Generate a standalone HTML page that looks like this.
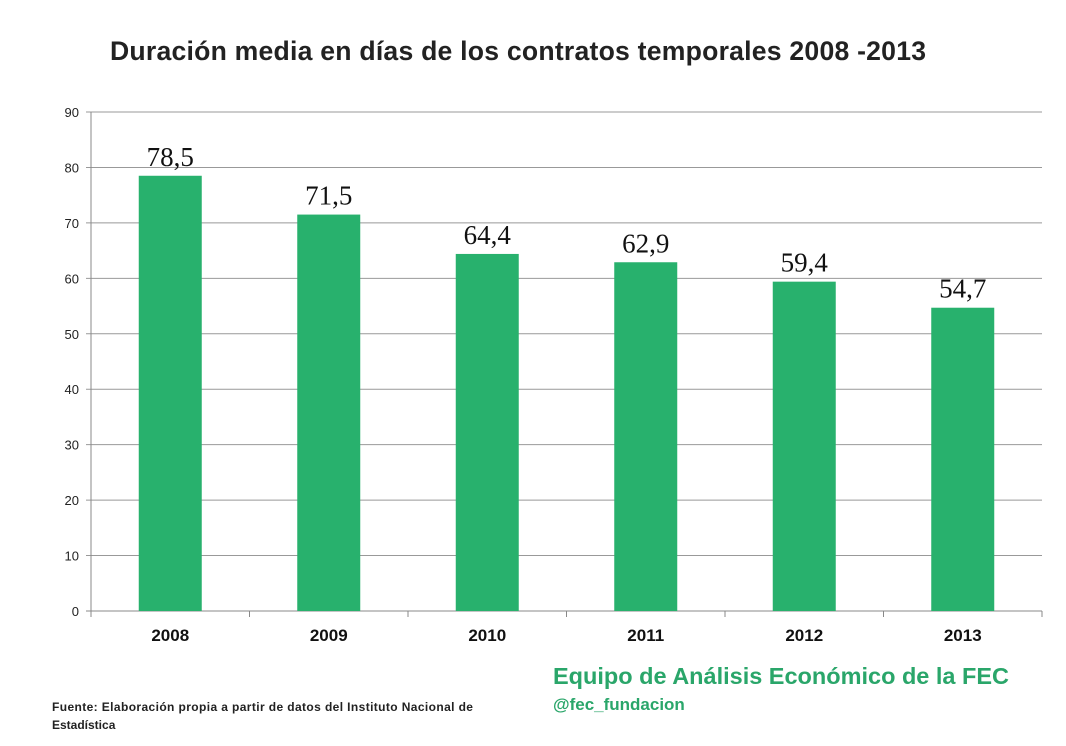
<!DOCTYPE html>
<html><head><meta charset="utf-8"><style>
body{margin:0;background:#fff;width:1066px;height:741px;overflow:hidden;font-family:"Liberation Sans",sans-serif}
</style></head><body>
<svg id="c" width="1066" height="741">
<text x="518" y="60" text-anchor="middle" font-size="26.6" font-weight="bold" fill="#222" textLength="816">Duración media en días de los contratos temporales 2008 -2013</text>
<g id="grid"></g><g id="bars"></g>
<text x="553" y="684" font-size="23.5" font-weight="bold" fill="#2aa66a" textLength="456">Equipo de Análisis Económico de la FEC</text>
<text x="553" y="710" font-size="17" font-weight="bold" fill="#2aa66a">@fec_fundacion</text>
<text x="52" y="711" font-size="12" font-weight="bold" fill="#222" textLength="421">Fuente: Elaboración propia a partir de datos del Instituto Nacional de</text>
<text x="52" y="729" font-size="12" font-weight="bold" fill="#222">Estadística</text>
</svg>
<script>
const categories=["2008","2009","2010","2011","2012","2013"];
const values=[78.5,71.5,64.4,62.9,59.4,54.7];
const labels=["78,5","71,5","64,4","62,9","59,4","54,7"];
const yTicks=[0,10,20,30,40,50,60,70,80,90];
const NS="http://www.w3.org/2000/svg";
const x0=91,x1=1042,y0=611,y1=112,ymax=90;
const y=v=>y0-(v/ymax)*(y0-y1);
const cw=(x1-x0)/categories.length;
const xc=i=>x0+cw*(i+0.5);
function mk(p,t,a){const e=document.createElementNS(NS,t);for(const k in a)e.setAttribute(k,a[k]);p.appendChild(e);return e;}
const g=document.getElementById('grid'),b=document.getElementById('bars');
yTicks.forEach(t=>{
 const l=mk(g,'line',{x1:x0-5,x2:x1,y1:y(t),y2:y(t),stroke:t===0?'#888':'#999','stroke-width':1});
 
 
 const tx=mk(g,'text',{x:x0-12,y:y(t)+5,'text-anchor':'end','font-size':13,fill:'#222'});
 tx.textContent=t;
 
 
});
const ax=mk(g,'line',{x1:x0,x2:x0,y1:y1,y2:y0,stroke:'#888'});


for(let i=0;i<=categories.length;i++){const tk=mk(g,'line',{x1:x0+cw*i,x2:x0+cw*i,y1:y0,y2:y0+6,stroke:'#888'});
 
 }
categories.forEach((c,i)=>{
 const w=63;
 const r=mk(b,'rect',{x:xc(i)-w/2,y:y(values[i]),width:w,height:y0-y(values[i]),fill:'#28b16d'});
 
 
 const lt=mk(b,'text',{x:xc(i),y:y(values[i])-10,'text-anchor':'middle','font-size':27,'font-family':'Liberation Serif, serif',fill:'#111'});
 lt.textContent=labels[i];
 
 
 const xt=mk(b,'text',{x:xc(i),y:641,'text-anchor':'middle','font-size':17,'font-weight':'bold',fill:'#111'});
 xt.textContent=c;
 
 
});
</script>
</body></html>
